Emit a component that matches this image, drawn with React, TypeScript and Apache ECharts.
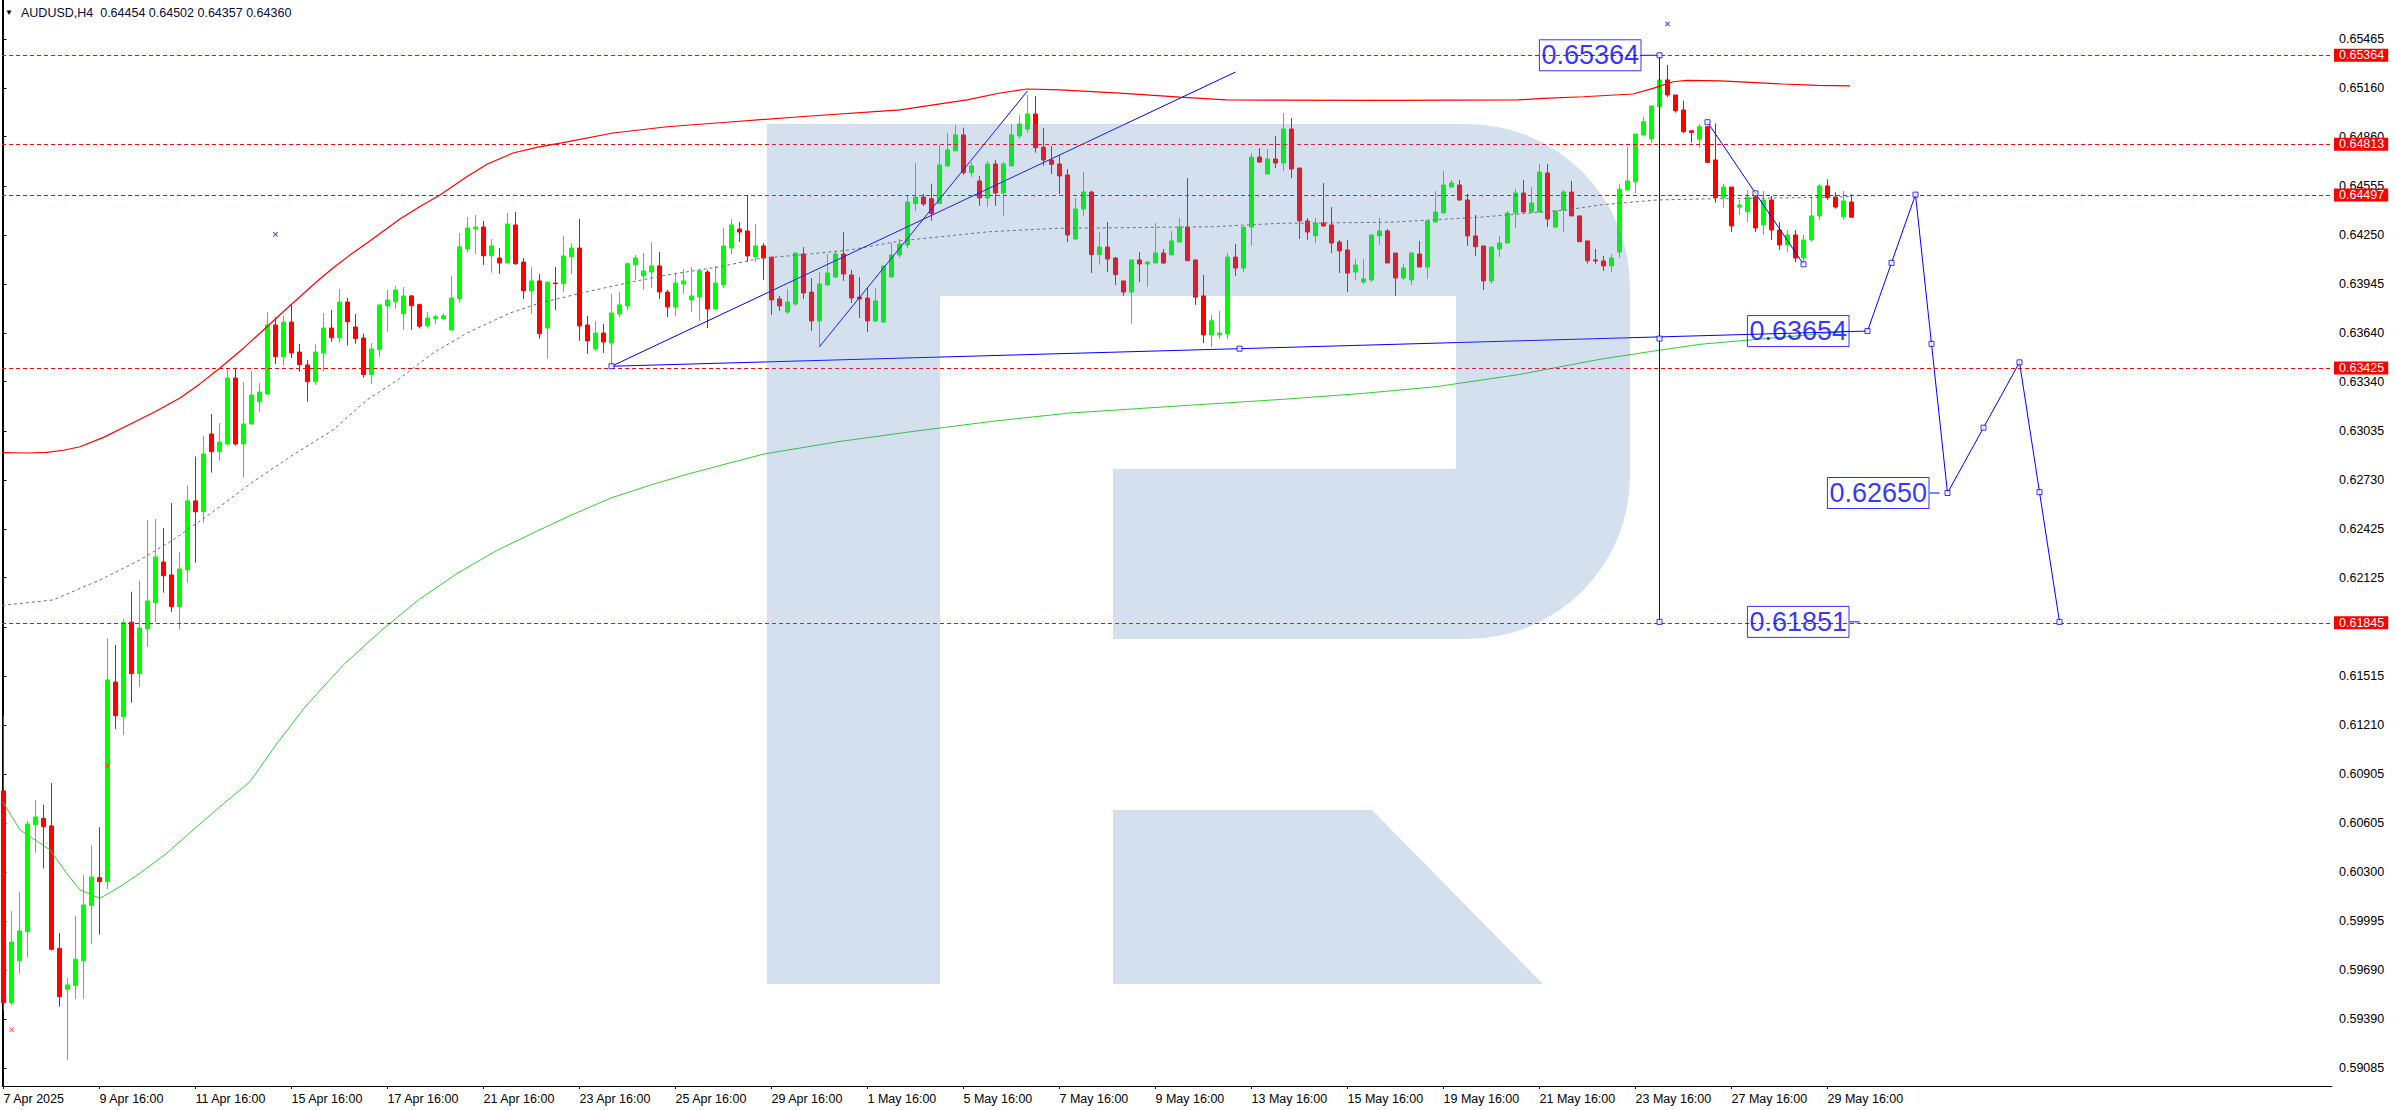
import React, { useEffect, useRef } from "react";
import * as echarts from "echarts";

// ---------- data ----------
const symbolName = "AUDUSD,H4";

const xLabelBars = [0, 12, 24, 36, 48, 60, 72, 84, 96, 108, 120, 132, 144, 156, 168, 180, 192, 204, 216, 228];
const xLabels = ["7 Apr 2025", "9 Apr 16:00", "11 Apr 16:00", "15 Apr 16:00", "17 Apr 16:00", "21 Apr 16:00", "23 Apr 16:00", "25 Apr 16:00", "29 Apr 16:00", "1 May 16:00", "5 May 16:00", "7 May 16:00", "9 May 16:00", "13 May 16:00", "15 May 16:00", "19 May 16:00", "21 May 16:00", "23 May 16:00", "27 May 16:00", "29 May 16:00"];

const yTicks = [0.65465, 0.6516, 0.6486, 0.64555, 0.6425, 0.63945, 0.6364, 0.6334, 0.63035, 0.6273, 0.62425, 0.62125, 0.6182, 0.61515, 0.6121, 0.60905, 0.60605, 0.603, 0.59995, 0.5969, 0.5939, 0.59085];
const yLabelTicks = [0.65465, 0.6516, 0.6486, 0.64555, 0.6425, 0.63945, 0.6364, 0.6334, 0.63035, 0.6273, 0.62425, 0.62125, 0.61515, 0.6121, 0.60905, 0.60605, 0.603, 0.59995, 0.5969, 0.5939, 0.59085];

const opens = [
  0.60803, 0.5949, 0.5975, 0.5993, 0.60594, 0.60633, 0.60586, 0.59827, 0.59573, 0.59596,
  0.5975, 0.60092, 0.60265, 0.6024, 0.61478, 0.61263, 0.61849, 0.6153, 0.61807, 0.6197,
  0.62222, 0.62142, 0.61945, 0.62173, 0.62601, 0.62534, 0.63016, 0.62906, 0.62954, 0.63363,
  0.62954, 0.63078, 0.63216, 0.63264, 0.63692, 0.63495, 0.6371, 0.63524, 0.63444, 0.6334,
  0.63518, 0.63673, 0.63613, 0.63834, 0.63679, 0.63611, 0.63384, 0.63539, 0.6381, 0.63836,
  0.63762, 0.63872, 0.63818, 0.63687, 0.63731, 0.63731, 0.63661, 0.63855, 0.64163, 0.64287,
  0.64299, 0.64121, 0.64107, 0.64076, 0.64312, 0.64082, 0.63903, 0.63965, 0.63673, 0.63952,
  0.63948, 0.64115, 0.64169, 0.63692, 0.63543, 0.63642, 0.6358, 0.6376, 0.6381, 0.64066,
  0.63996, 0.6402, 0.64058, 0.63896, 0.63803, 0.63946, 0.63847, 0.63865, 0.6402, 0.63791,
  0.6394, 0.64169, 0.64287, 0.64275, 0.64113, 0.64182, 0.64113, 0.63853, 0.63772, 0.63822,
  0.64132, 0.63896, 0.63717, 0.6394, 0.63989, 0.64132, 0.64002, 0.63865, 0.63859, 0.63717,
  0.6371, 0.63989, 0.64126, 0.64188, 0.64444, 0.64485, 0.64475, 0.64444, 0.64678, 0.64771,
  0.6487, 0.64636, 0.64585, 0.64479, 0.6469, 0.6451, 0.64678, 0.64864, 0.64907, 0.65,
  0.64794, 0.64715, 0.6469, 0.64622, 0.64225, 0.64411, 0.64516, 0.64128, 0.64175, 0.64107,
  0.63965, 0.63896, 0.64095, 0.6407, 0.64076, 0.64138, 0.64126, 0.64206, 0.64299, 0.64095,
  0.63872, 0.6363, 0.6363, 0.63636, 0.64113, 0.64045, 0.64299, 0.64733, 0.64628, 0.64721,
  0.64696, 0.64907, 0.64665, 0.64337, 0.64244, 0.64324, 0.64312, 0.64206, 0.64157, 0.6402,
  0.63958, 0.63971, 0.64244, 0.64275, 0.64138, 0.63983, 0.63971, 0.64132, 0.64051, 0.6433,
  0.64386, 0.64547, 0.6456, 0.64467, 0.64244, 0.64182, 0.63965, 0.64163, 0.642, 0.64386,
  0.6451, 0.64392, 0.64392, 0.64634, 0.64299, 0.64405, 0.64516, 0.64368, 0.64213, 0.64095,
  0.64089, 0.64058, 0.64144, 0.64529, 0.6458, 0.6487, 0.64845, 0.65045, 0.65211, 0.65118,
  0.65025, 0.64896, 0.64843, 0.64921, 0.64715, 0.64483, 0.64547, 0.64422, 0.64394, 0.64485,
  0.64312, 0.64467, 0.64281, 0.64188, 0.6425, 0.64107, 0.64219, 0.64368, 0.64554, 0.64485,
  0.64363, 0.64454,
];
const highs = [
  0.61268, 0.60059, 0.60176, 0.60617, 0.60747, 0.60716, 0.60852, 0.59922, 0.59645, 0.60028,
  0.6028, 0.60466, 0.60578, 0.61749, 0.61708, 0.61869, 0.62038, 0.62107, 0.62483, 0.62489,
  0.62433, 0.62588, 0.62286, 0.62696, 0.62875, 0.63004, 0.6314, 0.63084, 0.63419, 0.63427,
  0.63338, 0.63407, 0.63334, 0.63772, 0.6374, 0.63748, 0.6382, 0.63574, 0.63475, 0.63574,
  0.63766, 0.63785, 0.63915, 0.63859, 0.6376, 0.63638, 0.6358, 0.63816, 0.63909, 0.63934,
  0.63927, 0.63878, 0.63824, 0.63772, 0.63754, 0.63762, 0.63998, 0.64262, 0.64361, 0.64374,
  0.64337, 0.64225, 0.64169, 0.64386, 0.64392, 0.64107, 0.64051, 0.64008, 0.63958, 0.64051,
  0.64244, 0.642, 0.64349, 0.63748, 0.63717, 0.63698, 0.63884, 0.63896, 0.64076, 0.64126,
  0.64138, 0.64206, 0.64144, 0.63909, 0.64008, 0.64039, 0.64051, 0.64033, 0.64033, 0.64058,
  0.64293, 0.64349, 0.6433, 0.64492, 0.64318, 0.642, 0.64113, 0.63872, 0.63915, 0.64138,
  0.64175, 0.63983, 0.6402, 0.64132, 0.64151, 0.64268, 0.64033, 0.63989, 0.63921, 0.63921,
  0.64058, 0.642, 0.64225, 0.64498, 0.64696, 0.64504, 0.64568, 0.64808, 0.64882, 0.64932,
  0.64915, 0.64702, 0.64616, 0.64709, 0.64715, 0.64702, 0.64938, 0.64994, 0.65118, 0.65112,
  0.64913, 0.64802, 0.64746, 0.64659, 0.64479, 0.6464, 0.64525, 0.64268, 0.6433, 0.64113,
  0.63965, 0.64095, 0.64144, 0.64089, 0.64324, 0.64163, 0.64275, 0.64355, 0.64603, 0.64095,
  0.64002, 0.63754, 0.63779, 0.64138, 0.64194, 0.64299, 0.64758, 0.64789, 0.64783, 0.64864,
  0.65006, 0.64975, 0.64665, 0.64355, 0.64355, 0.64572, 0.64423, 0.64219, 0.64219, 0.64101,
  0.64101, 0.6425, 0.64355, 0.64287, 0.64138, 0.6407, 0.64144, 0.64213, 0.64337, 0.64523,
  0.64647, 0.64591, 0.64591, 0.64504, 0.64374, 0.64182, 0.64175, 0.64244, 0.64399, 0.64535,
  0.64591, 0.64547, 0.6469, 0.6469, 0.64399, 0.64529, 0.64585, 0.64368, 0.64213, 0.64163,
  0.6412, 0.64132, 0.64564, 0.64797, 0.64876, 0.64983, 0.6505, 0.65223, 0.65304, 0.65118,
  0.65082, 0.64896, 0.64938, 0.64921, 0.64942, 0.64566, 0.64547, 0.64467, 0.64529, 0.64516,
  0.64523, 0.64492, 0.6433, 0.64281, 0.64281, 0.6425, 0.64487, 0.64566, 0.64595, 0.64515,
  0.64523, 0.64502,
];
const lows = [
  0.59441, 0.59476, 0.5967, 0.59769, 0.6042, 0.60321, 0.59813, 0.59465, 0.59135, 0.59511,
  0.59515, 0.59856, 0.59912, 0.60193, 0.61187, 0.6115, 0.6135, 0.61449, 0.61695, 0.61849,
  0.62032, 0.61912, 0.61803, 0.62094, 0.62218, 0.62466, 0.62776, 0.62851, 0.62944, 0.62944,
  0.62745, 0.63072, 0.63154, 0.63258, 0.6345, 0.6344, 0.63487, 0.63402, 0.63216, 0.6332,
  0.63402, 0.63588, 0.63582, 0.63564, 0.63576, 0.63365, 0.63328, 0.63495, 0.6365, 0.63793,
  0.63661, 0.63661, 0.63671, 0.63677, 0.63698, 0.63725, 0.63657, 0.6383, 0.64144, 0.64132,
  0.64064, 0.64016, 0.64008, 0.64076, 0.64064, 0.63853, 0.6376, 0.63607, 0.63483, 0.63785,
  0.63896, 0.64008, 0.63593, 0.63512, 0.63531, 0.63518, 0.63444, 0.63741, 0.63785, 0.63971,
  0.63909, 0.63921, 0.63853, 0.63741, 0.63748, 0.63884, 0.63772, 0.63717, 0.63673, 0.63785,
  0.63921, 0.64132, 0.64206, 0.64082, 0.64082, 0.63971, 0.63754, 0.63779, 0.6376, 0.6381,
  0.63853, 0.63655, 0.63557, 0.63934, 0.63983, 0.63965, 0.63828, 0.63735, 0.63648, 0.6371,
  0.63704, 0.63989, 0.64107, 0.64169, 0.64399, 0.6443, 0.64338, 0.64444, 0.64673, 0.64771,
  0.64622, 0.64609, 0.6443, 0.64423, 0.6443, 0.64369, 0.64678, 0.64849, 0.64884, 0.6476,
  0.64678, 0.64628, 0.64504, 0.64206, 0.64219, 0.64369, 0.64014, 0.64066, 0.6402, 0.6394,
  0.63872, 0.637, 0.63958, 0.63927, 0.64076, 0.6407, 0.64126, 0.64206, 0.6409, 0.63816,
  0.6358, 0.63555, 0.63605, 0.63605, 0.63996, 0.6402, 0.64182, 0.64696, 0.64628, 0.64665,
  0.64647, 0.64603, 0.64225, 0.64219, 0.642, 0.64299, 0.64138, 0.64014, 0.63896, 0.63971,
  0.63946, 0.63958, 0.64188, 0.64076, 0.63872, 0.63971, 0.6394, 0.64051, 0.63977, 0.6433,
  0.64386, 0.64547, 0.64461, 0.64182, 0.6412, 0.63909, 0.63946, 0.64113, 0.642, 0.64293,
  0.64392, 0.64392, 0.64392, 0.64299, 0.64293, 0.64268, 0.64368, 0.64208, 0.64072, 0.6407,
  0.64027, 0.6402, 0.64107, 0.64529, 0.64508, 0.64864, 0.6482, 0.65025, 0.65105, 0.65008,
  0.6488, 0.64822, 0.64791, 0.64696, 0.6445, 0.64419, 0.64268, 0.64374, 0.6433, 0.64268,
  0.6425, 0.64219, 0.64157, 0.64144, 0.64082, 0.64068, 0.64206, 0.64343, 0.64467, 0.64413,
  0.64343, 0.64357,
];
const closes = [
  0.5949, 0.59866, 0.59935, 0.60598, 0.60641, 0.60581, 0.59821, 0.59527, 0.596, 0.59759,
  0.60096, 0.60269, 0.6024, 0.61491, 0.61269, 0.61846, 0.6153, 0.61813, 0.61981, 0.62253,
  0.62137, 0.61945, 0.62179, 0.62601, 0.62534, 0.62892, 0.62906, 0.62966, 0.63363, 0.62954,
  0.63078, 0.63258, 0.63276, 0.63692, 0.63495, 0.6371, 0.63518, 0.63446, 0.6334, 0.63524,
  0.63673, 0.63613, 0.63834, 0.63712, 0.63607, 0.63384, 0.63543, 0.63816, 0.63847, 0.63909,
  0.63872, 0.63811, 0.63684, 0.63735, 0.63743, 0.63749, 0.63859, 0.64177, 0.64293, 0.64299,
  0.64121, 0.64182, 0.64076, 0.64318, 0.64072, 0.63903, 0.63965, 0.63638, 0.63958, 0.63948,
  0.6412, 0.64169, 0.63686, 0.63593, 0.63642, 0.63586, 0.63766, 0.63816, 0.64072, 0.64107,
  0.64027, 0.64058, 0.63896, 0.63803, 0.63952, 0.63965, 0.63872, 0.64027, 0.63791, 0.63952,
  0.64182, 0.64312, 0.64268, 0.6412, 0.64182, 0.64107, 0.63847, 0.6381, 0.63834, 0.64138,
  0.6389, 0.63717, 0.63946, 0.64014, 0.64132, 0.64008, 0.63859, 0.63853, 0.63717, 0.63841,
  0.64058, 0.64126, 0.64194, 0.64454, 0.64485, 0.64442, 0.64384, 0.64684, 0.64777, 0.6487,
  0.64636, 0.64678, 0.64479, 0.6469, 0.6451, 0.6469, 0.6487, 0.64938, 0.65, 0.64791,
  0.64715, 0.64688, 0.64616, 0.6425, 0.64411, 0.64516, 0.64128, 0.64175, 0.64101, 0.64004,
  0.63896, 0.64095, 0.6407, 0.64082, 0.64138, 0.64076, 0.64213, 0.64299, 0.6409, 0.63865,
  0.6363, 0.63718, 0.63642, 0.64113, 0.64045, 0.64299, 0.64733, 0.64702, 0.64721, 0.64696,
  0.64907, 0.64659, 0.64337, 0.64268, 0.64324, 0.64306, 0.642, 0.64151, 0.64014, 0.64064,
  0.63977, 0.6425, 0.64275, 0.64076, 0.63983, 0.64045, 0.64138, 0.64051, 0.64337, 0.64392,
  0.6456, 0.64572, 0.64467, 0.64244, 0.64177, 0.63965, 0.64175, 0.642, 0.64386, 0.6451,
  0.64392, 0.64448, 0.6464, 0.64349, 0.64399, 0.64516, 0.64368, 0.64208, 0.6409, 0.64089,
  0.64058, 0.64107, 0.64533, 0.64585, 0.64876, 0.64952, 0.6505, 0.65211, 0.65118, 0.6502,
  0.6489, 0.64886, 0.64921, 0.647, 0.64481, 0.64547, 0.64306, 0.64436, 0.64485, 0.64293,
  0.64467, 0.64281, 0.64188, 0.6425, 0.64107, 0.64219, 0.64368, 0.64554, 0.64481, 0.64423,
  0.64461, 0.6436,
];

// indicator lines: [bar index, price]
const upperBand = [
  [-0.19, 0.629], [3.0, 0.62898], [5.4, 0.62902], [7.5, 0.62915], [9.56, 0.62937], [12.5, 0.62995],
  [16.19, 0.63086], [19.0, 0.63155], [22.06, 0.63239], [24.5, 0.63325], [27.06, 0.63425], [30.0, 0.63548],
  [32.94, 0.63681], [35.0, 0.63775], [37.06, 0.63867], [39.1, 0.63958], [41.19, 0.64045], [43.3, 0.64125],
  [45.44, 0.642], [47.5, 0.64275], [49.56, 0.64349], [52.0, 0.64425], [54.56, 0.64498], [57.9, 0.64611],
  [60.5, 0.6469], [63.69, 0.64758], [66.8, 0.64795], [69.94, 0.64822], [76.19, 0.64882], [82.94, 0.64921],
  [91.19, 0.64952], [99.56, 0.64983], [112.06, 0.65025], [120.44, 0.65087], [124.56, 0.6513], [127.94, 0.65155],
  [132.06, 0.65149], [139.56, 0.6513], [147.06, 0.65105], [152.81, 0.65087], [172.56, 0.65084], [189.31, 0.65087],
  [192.44, 0.65097], [197.44, 0.65107], [203.69, 0.65124], [206.19, 0.65159], [208.69, 0.652], [210.44, 0.65209],
  [214.56, 0.65205], [222.44, 0.65186], [226.69, 0.65178], [230.81, 0.65174],
];
const middleMA = [
  [-0.19, 0.61953], [6.19, 0.61987], [12.06, 0.62111], [17.06, 0.62235], [21.19, 0.62359], [26.19, 0.62534],
  [31.19, 0.6272], [36.19, 0.62886], [41.19, 0.63041], [45.44, 0.63227], [49.56, 0.63361], [53.69, 0.63518],
  [57.94, 0.63642], [63.31, 0.63766], [67.06, 0.63828], [72.94, 0.63898], [78.69, 0.6396], [82.94, 0.64002],
  [89.56, 0.64053], [94.56, 0.64105], [99.56, 0.64126], [105.81, 0.64157], [112.06, 0.64213], [123.19, 0.6427],
  [131.56, 0.64291], [139.94, 0.64295], [151.06, 0.64301], [159.56, 0.64322], [173.44, 0.64329], [184.56, 0.6436],
  [195.44, 0.64405], [199.56, 0.64436], [206.69, 0.64467], [212.06, 0.64473], [224.56, 0.64481], [230.81, 0.64487],
];
const slowMA = [
  [-0.1, 0.60736], [2.06, 0.60561], [5.81, 0.60437], [7.9, 0.60292], [9.56, 0.60189], [12.06, 0.60137],
  [14.56, 0.60209], [17.06, 0.60292], [20.4, 0.60416], [23.69, 0.60561], [27.06, 0.60705], [30.81, 0.6086],
  [34.3, 0.61105], [37.81, 0.6133], [42.5, 0.61585], [47.31, 0.61801], [52.0, 0.61992], [56.81, 0.62154],
  [61.6, 0.62292], [66.44, 0.62408], [71.2, 0.62518], [75.94, 0.62619], [80.8, 0.62698], [85.56, 0.62768],
  [95.06, 0.62892], [104.6, 0.6297], [114.19, 0.63035], [123.7, 0.63095], [133.31, 0.63146], [147.0, 0.6319],
  [160.56, 0.63233], [170.0, 0.63268], [179.03, 0.63309], [189.5, 0.63385], [199.56, 0.63479], [206.0, 0.63528],
  [212.06, 0.63572], [218.31, 0.63599], [227.94, 0.6364], [230.81, 0.63655],
];

// horizontal levels
const levelPrices = [0.65364, 0.64813, 0.64497, 0.63425, 0.61845];
const currentPrice = 0.6436;

// drawn objects
const trendBase = [[76, 0.63436], [233, 0.63654]];
const trendUp = [[76, 0.63436], [154, 0.6526]];
const trendSteep = [[102, 0.63557], [128, 0.65143]];
const verticalLine = [[207, 0.65364], [207, 0.61851]];
const zigzag = [[213, 0.64949], [225, 0.64068]];
const forecast = [[233, 0.63654], [239, 0.645], [243, 0.6265], [252, 0.6346], [257, 0.61851]];
const squares = [
  [76, 0.63436], [154.5, 0.63545], [233, 0.63654],
  [207, 0.65364], [207, 0.636075], [207, 0.61851],
  [213, 0.64949], [219, 0.64508], [225, 0.64068],
  [236, 0.64077], [239, 0.645], [241, 0.63575], [243, 0.6265], [247.5, 0.63055], [252, 0.6346], [254.5, 0.62655], [257, 0.61851],
];
const priceLabels = [[207, 0.65364], [233, 0.63654], [243, 0.6265], [233, 0.61851]];
const connectors = [
  [[204.78, 0.65364], [207, 0.65364]],
  [[240.78, 0.6265], [242, 0.6265]],
  [[230.73, 0.61851], [232, 0.61851]],
];
const blueMarks = [[208, 0.65558], [34, 0.64254]];
const redMarks = [[13, 0.60959], [1, 0.59322]];

// ---------- watermark ----------
const R_PATH =
  "M767,124H1467A163,163 0 0 1 1630,287V476A163,163 0 0 1 1467,639H1113V469H1456V296H940V984H767Z M1113,810H1372L1543,984H1113Z";
echarts.graphic.registerShape("rlogo", echarts.graphic.extendPath(R_PATH, {}));

const FONT = "'Liberation Sans', Arial, sans-serif";
const X_MARK = "path://M0,1L1,0L4,3L7,0L8,1L5,4L8,7L7,8L4,5L1,8L0,7L3,4Z";
const Y_MIN = 0.589732;
const Y_MAX = 0.657068;

const plainLine = (data: number[][], name: string, lineStyle: any, z: number) => ({
  type: "line",
  name,
  data,
  symbol: "none",
  showSymbol: false,
  silent: true,
  z,
  lineStyle,
});
const blueLine = (data: number[][], name: string) => plainLine(data, name, { color: "#0000ff", width: 1 }, 4);

export default function App() {
  const ref = useRef<HTMLDivElement>(null);

  useEffect(() => {
    const chart = echarts.init(ref.current!, undefined, { renderer: "svg" });
    const last = opens.length - 1;
    const candles = opens.map((o, i) => [i, o, closes[i], lows[i], highs[i]]);

    const option: any = {
      animation: false,
      backgroundColor: "#ffffff",
      title: [
        { text: "▼", left: 5, top: 8, padding: 0, textStyle: { fontSize: 8, color: "#000000", fontWeight: "normal" } },
        {
          text: `${symbolName}  ${opens[last].toFixed(5)} ${highs[last].toFixed(5)} ${lows[last].toFixed(5)} ${closes[last].toFixed(5)}`,
          left: 21,
          top: 6,
          padding: 0,
          textStyle: { fontSize: 12.5, color: "#0a0a3c", fontWeight: "normal", fontFamily: FONT },
        },
      ],
      grid: { left: 2, right: 64, top: 0, bottom: 24, containLabel: false },
      xAxis: {
        type: "value",
        min: -0.1875,
        max: 291.0625,
        axisLine: { show: true, lineStyle: { color: "#000000", width: 1 } },
        axisTick: { show: true, length: 3, customValues: xLabelBars, lineStyle: { color: "#000000" } },
        axisLabel: {
          show: true,
          customValues: xLabelBars,
          formatter: (v: number) => xLabels[xLabelBars.indexOf(Math.round(v))] ?? "",
          align: "left",
          margin: 6,
          color: "#000000",
          fontSize: 12.5,
          fontFamily: FONT,
        },
        splitLine: { show: false },
      },
      yAxis: [
        {
          type: "value",
          position: "right",
          min: Y_MIN,
          max: Y_MAX,
          scale: true,
          axisLine: { show: true, lineStyle: { color: "#000000", width: 1 } },
          axisTick: { show: true, length: 3, customValues: yTicks, lineStyle: { color: "#000000" } },
          axisLabel: {
            show: true,
            customValues: yLabelTicks,
            formatter: (v: number) => v.toFixed(5),
            margin: 7,
            color: "#000000",
            fontSize: 12.5,
            fontFamily: FONT,
          },
          splitLine: { show: false },
        },
        {
          type: "value",
          position: "left",
          min: Y_MIN,
          max: Y_MAX,
          scale: true,
          axisLine: { show: true, lineStyle: { color: "#000000", width: 1 } },
          axisTick: { show: false },
          axisLabel: { show: false },
          splitLine: { show: false },
        },
      ],
      series: [
        {
          type: "candlestick",
          name: "AUDUSD",
          data: candles,
          barWidth: 4,
          silent: true,
          z: 2,
          itemStyle: {
            color: "#00ff00",
            color0: "#ff0000",
            borderColor: "#00ff00",
            borderColor0: "#ff0000",
            borderWidth: 1,
          },
          markLine: {
            silent: true,
            symbol: ["none", "none"],
            animation: false,
            precision: 5,
            lineStyle: { color: "#ff0000", type: [4, 3], width: 1 },
            label: {
              show: true,
              position: "end",
              distance: 2,
              formatter: (p: any) => Number(p.value).toFixed(5),
              color: "#ffffff",
              backgroundColor: "#ff0000",
              fontSize: 12.5,
              fontFamily: FONT,
              lineHeight: 13,
              padding: [0, 4, 0, 5],
            },
            data: [
              ...levelPrices.map((v) => ({ yAxis: v })),
              { yAxis: currentPrice, lineStyle: { opacity: 0 }, label: { backgroundColor: "#000000" } },
            ],
          },
        },
        plainLine(upperBand, "upper", { color: "#ff0000", width: 1.2 }, 3),
        plainLine(middleMA, "middle", { color: "#6e6e6e", width: 1, type: [3, 3] }, 3),
        plainLine(slowMA, "slow", { color: "#32cd32", width: 1 }, 3),
        blueLine(trendBase, "trendBase"),
        blueLine(trendUp, "trendUp"),
        blueLine(trendSteep, "trendSteep"),
        blueLine(verticalLine, "vertical"),
        blueLine(zigzag, "zigzag"),
        blueLine(forecast, "forecast"),
        ...connectors.map((c, i) => blueLine(c, "conn" + i)),
        {
          type: "scatter",
          name: "squares",
          data: squares,
          symbol: "rect",
          symbolSize: 5,
          silent: true,
          z: 5,
          itemStyle: { color: "#ffffff", borderColor: "#0000ff", borderWidth: 1 },
        },
        {
          type: "scatter",
          name: "labels",
          data: priceLabels,
          symbol: "circle",
          symbolSize: 1,
          silent: true,
          z: 6,
          itemStyle: { color: "rgba(0,0,0,0)" },
          label: {
            show: true,
            position: "left",
            distance: 18,
            formatter: (p: any) => Number(p.value[1]).toFixed(5),
            color: "#0000ff",
            fontSize: 27,
            fontFamily: FONT,
            lineHeight: 30,
            borderColor: "#0000ff",
            borderWidth: 1,
            padding: [1, 2, 0, 2],
          },
        },
        {
          type: "scatter",
          name: "blueMarks",
          data: blueMarks,
          symbol: X_MARK,
          symbolSize: 5,
          silent: true,
          z: 5,
          itemStyle: { color: "#0000ff" },
        },
        {
          type: "scatter",
          name: "redMarks",
          data: redMarks,
          symbol: X_MARK,
          symbolSize: 5,
          silent: true,
          z: 5,
          itemStyle: { color: "#ff2a00" },
        },
      ],
      graphic: [
        {
          type: "rlogo",
          x: 0,
          y: 0,
          silent: true,
          z: 100,
          style: { fill: "rgba(89,130,190,0.25)" },
        },
      ],
    };

    chart.setOption(option);
    return () => chart.dispose();
  }, []);

  return (
    <div
      ref={ref}
      style={{ position: "fixed", left: 0, top: 0, width: 2396, height: 1110, background: "#ffffff" }}
    />
  );
}
